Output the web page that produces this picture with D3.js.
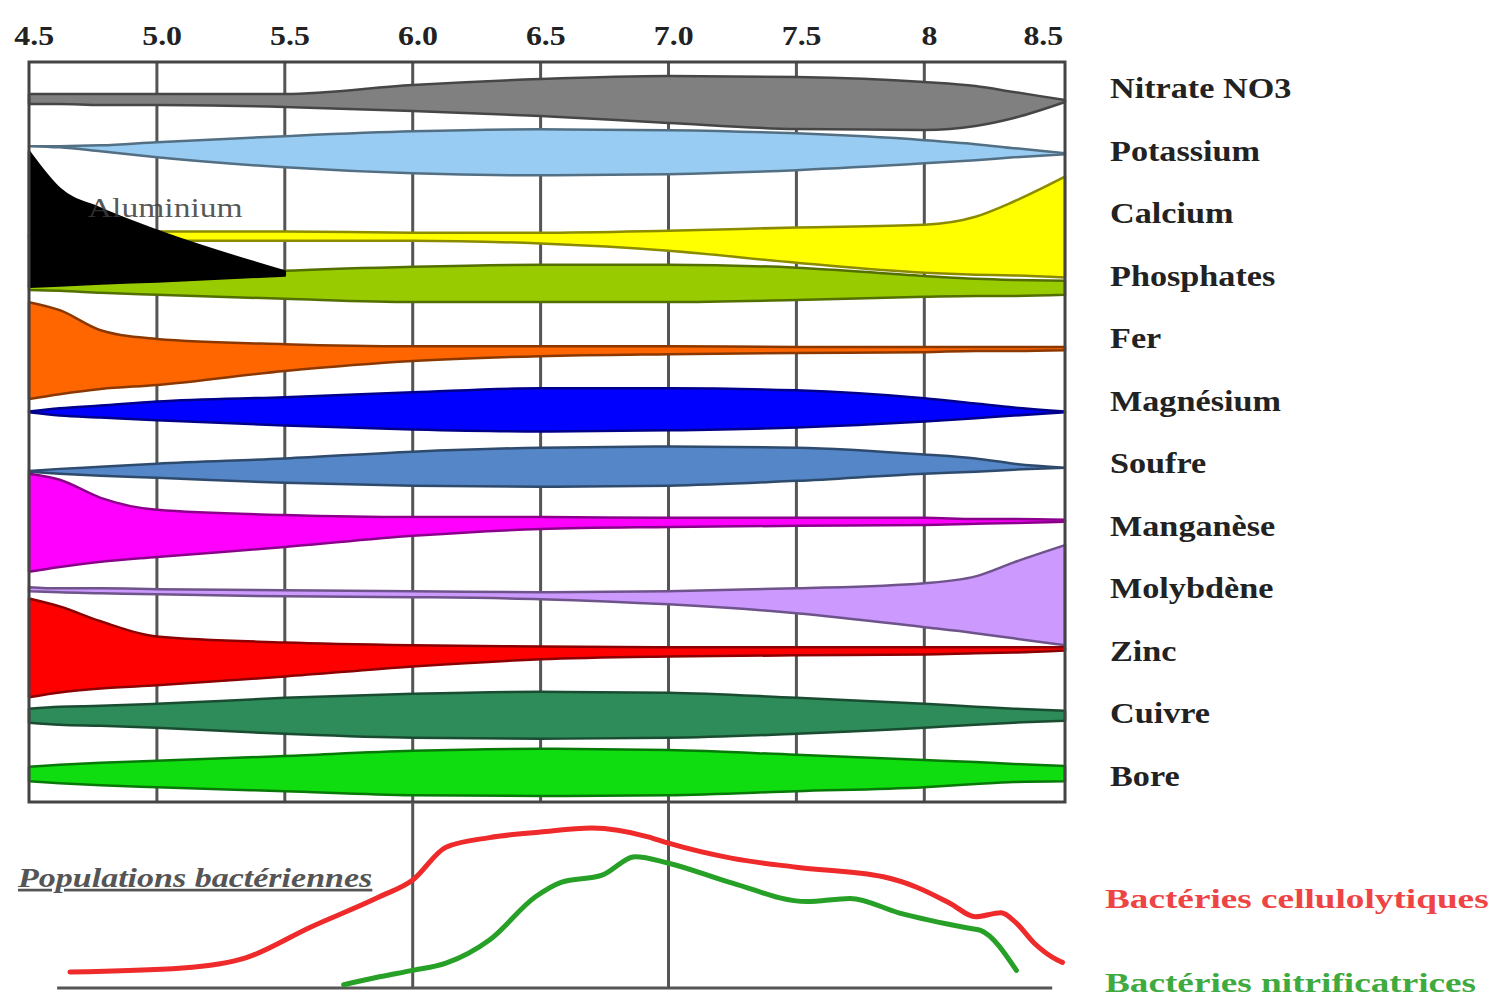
<!DOCTYPE html>
<html lang="fr">
<head>
    <meta charset="UTF-8">
    <script src="https://d3js.org/d3.v7.min.js"></script>
    <style>
        body { margin: 0; background: #fff; }
        svg { display: block; }
        .serif { font-family: "Liberation Serif", "Times New Roman", serif; }
    </style>
</head>
<body>
    <div id="chart"></div>

    <script>
        const phGrid = [4.5, 4.62, 4.78, 5.0, 5.5, 6.0, 6.5, 7.0, 7.5, 8.0, 8.2, 8.35, 8.55];
        const tickValues = [4.5, 5.0, 5.5, 6.0, 6.5, 7.0, 7.5, 8.0, 8.5];
        const tickLabels = ["4.5", "5.0", "5.5", "6.0", "6.5", "7.0", "7.5", "8", "8.5"];
        const elements = ["Nitrate NO3", "Potassium", "Calcium", "Phosphates", "Fer", "Magnésium",
                          "Soufre", "Manganèse", "Molybdène", "Zinc", "Cuivre", "Bore"];

        // availability: extent above (up) and below (down) the element's row
        const nitrateUp     = [-1.5, -1.5, -1.5, -1.5, -1.5, 0.75, 2.25, 3, 2.75, 1.5, 0.5, -1, -3];
        const nitrateDown   = [4, 4, 4.25, 4.25, 4.75, 5.75, 7, 8.75, 10.25, 10.5, 9.5, 7.5, 3.5];
        const potassiumUp   = [1.1, 1.1, 1.3, 2.1, 3.6, 4.8, 5.3, 5.1, 4.3, 2.6, 1.6, 0.6, -0.7];
        const potassiumDown = [-1.1, -0.8, 0.2, 1.7, 4.2, 5.7, 6.2, 5.9, 4.9, 3.2, 2.4, 1.7, 0.9];
        const calciumUp     = [-5.4, -5.4, -5.1, -4.6, -4.6, -4.9, -4.9, -4.4, -3.6, -2.9, -0.9, 2.9, 9.1];
        const calciumDown   = [6.4, 6.4, 6.6, 6.9, 6.9, 6.9, 7.6, 9.4, 12.4, 14.9, 15.4, 15.6, 16.1];
        const aluminiumUp   = [15.4, 6.1, 1.1, -4.4, -14.6, null, null, null, null, null, null, null, null];
        const aluminiumDown = [18.4, 18.1, 17.6, 17.1, 15.6, null, null, null, null, null, null, null, null];
        const phosphatesUp  = [-2.3, -2.1, -1.8, -1.1, 1.2, 2.2, 2.7, 2.7, 2.0, -0.1, -0.8, -1.1, -1.3];
        const phosphatesDown= [3.6, 3.8, 4.3, 4.8, 5.8, 6.6, 6.6, 6.6, 6.1, 5.3, 5.1, 5.1, 4.8];
        const ferUp         = [9.0, 7.0, 2.0, -0.2, -1.5, -2.0, -2.0, -2.0, -2.2, -2.2, -2.2, -2.2, -2.2];
        const ferDown       = [15.2, 14.0, 12.7, 11.7, 8.2, 5.7, 4.5, 4.0, 3.7, 3.5, 3.2, 3.2, 3.0];
        const magnesiumUp   = [-2.7, -1.9, -1.2, -0.2, 0.9, 2.1, 3.1, 3.1, 2.6, 0.6, -0.7, -1.7, -2.7];
        const magnesiumDown = [2.9, 3.7, 4.2, 4.9, 6.2, 7.2, 7.7, 7.4, 6.7, 5.2, 4.4, 3.7, 2.9];
        const soufreUp      = [-1.9, -1.4, -0.9, -0.1, 1.2, 2.9, 3.9, 4.2, 3.9, 2.2, 1.2, -0.1, -1.1];
        const soufreDown    = [2.1, 2.6, 3.1, 3.6, 4.9, 5.6, 5.9, 5.6, 4.4, 2.6, 2.1, 1.6, 1.1];
        const manganeseUp   = [13.0, 11.5, 7.0, 4.0, 2.7, 2.2, 2.2, 2.0, 2.0, 2.0, 1.7, 1.7, 1.5];
        const manganeseDown = [11.5, 10.3, 9.0, 7.8, 5.3, 2.5, 0.8, 0.3, 0.0, -0.2, -0.5, -0.7, -1.0];
        const molybdeneUp   = [0.3, 0.0, 0.0, -0.2, -0.5, -0.7, -1.0, -0.7, 0.0, 1.3, 3.0, 6.5, 10.8];
        const molybdeneDown = [0.7, 1.0, 1.2, 1.5, 2.0, 2.2, 2.7, 4.0, 6.2, 9.7, 11.2, 12.5, 14.2];
        const zincUp        = [13.1, 11.1, 7.4, 3.6, 2.1, 1.4, 1.1, 0.9, 0.9, 0.9, 0.9, 0.9, 0.9];
        const zincDown      = [11.6, 10.4, 9.4, 8.6, 6.4, 3.9, 2.1, 1.4, 1.1, 0.9, 0.6, 0.4, -0.1];
        const cuivreUp      = [1.2, 1.7, 1.9, 2.4, 3.9, 4.9, 5.4, 5.2, 3.9, 2.4, 1.7, 1.2, 0.7];
        const cuivreDown    = [2.3, 2.8, 3.1, 3.6, 5.1, 6.1, 6.3, 6.1, 5.1, 3.6, 2.8, 2.3, 1.8];
        const boreUp        = [2.3, 2.8, 3.3, 3.8, 5.0, 6.3, 6.8, 6.5, 5.3, 4.0, 3.5, 3.0, 2.5];
        const boreDown      = [1.3, 1.8, 2.3, 2.8, 3.8, 4.8, 5.0, 4.8, 3.8, 2.8, 2.0, 1.5, 1.3];

        // bacterial populations (relative, 0-100)
        const celluloPh = [4.66, 5.1, 5.35, 5.6, 5.87, 6.0, 6.13, 6.3, 6.5, 6.7, 6.92, 7.0, 7.25, 7.5, 7.84, 7.97, 8.1, 8.2, 8.3, 8.36, 8.43, 8.52, 8.54];
        const cellulo   = [10, 12.5, 19, 38, 57, 67.5, 88, 94, 97.5, 100, 94.5, 90.5, 81, 75.5, 69.5, 63, 53, 44.5, 47, 40.5, 28, 17.5, 16];
        const nitrifPh  = [5.73, 5.87, 6.0, 6.13, 6.3, 6.48, 6.58, 6.74, 6.87, 7.0, 7.25, 7.54, 7.71, 7.9, 8.17, 8.22, 8.36];
        const nitrif    = [2, 7, 11, 15.5, 30, 57, 66, 70.5, 82, 78, 65.5, 54, 56, 47, 37.5, 36, 11];

        const bands = [
            { key: "Nitrate NO3", row: "Nitrate NO3", up: nitrateUp, down: nitrateDown, fill: "#808080" },
            { key: "Potassium", row: "Potassium", up: potassiumUp, down: potassiumDown, fill: "#99ccf2" },
            { key: "Calcium", row: "Calcium", up: calciumUp, down: calciumDown, fill: "#ffff00" },
            { key: "Phosphates", row: "Phosphates", up: phosphatesUp, down: phosphatesDown, fill: "#99cc00" },
            { key: "Aluminium", row: "Calcium", up: aluminiumUp, down: aluminiumDown, fill: "#000000" },
            { key: "Fer", row: "Fer", up: ferUp, down: ferDown, fill: "#ff6600" },
            { key: "Magnésium", row: "Magnésium", up: magnesiumUp, down: magnesiumDown, fill: "#0000ff" },
            { key: "Soufre", row: "Soufre", up: soufreUp, down: soufreDown, fill: "#5587c8" },
            { key: "Manganèse", row: "Manganèse", up: manganeseUp, down: manganeseDown, fill: "#ff00ff" },
            { key: "Molybdène", row: "Molybdène", up: molybdeneUp, down: molybdeneDown, fill: "#cc99ff" },
            { key: "Zinc", row: "Zinc", up: zincUp, down: zincDown, fill: "#ff0000" },
            { key: "Cuivre", row: "Cuivre", up: cuivreUp, down: cuivreDown, fill: "#2e8b5a" },
            { key: "Bore", row: "Bore", up: boreUp, down: boreDown, fill: "#0fdd0f" }
        ];

        const plotTop = 62, plotBottom = 802, baseY = 988;

        const svg = d3.select("#chart").append("svg")
            .attr("width", 1499)
            .attr("height", 1002);

        const x = d3.scaleLinear().domain([4.5, 8.55]).range([29, 1065]);
        const row = d3.scalePoint().domain(elements).range([88, 776]);
        const amp = d3.scaleLinear().domain([0, 10]).range([0, 40]);
        const yb = d3.scaleLinear().domain([0, 100]).range([baseY, 828]);

        // vertical grid
        svg.append("g")
            .selectAll("line")
            .data(tickValues.slice(1, -1))
            .enter().append("line")
            .attr("x1", d => x(d)).attr("x2", d => x(d))
            .attr("y1", plotTop).attr("y2", plotBottom)
            .attr("stroke", "#555").attr("stroke-width", 3);

        // top axis labels
        const axis = svg.append("g")
            .attr("transform", `translate(0,${plotTop})`)
            .call(d3.axisTop(x).tickValues(tickValues).tickFormat((d, i) => tickLabels[i]).tickSize(0).tickPadding(17));
        axis.select(".domain").remove();
        axis.selectAll("text")
            .attr("class", "serif")
            .attr("font-size", 27)
            .attr("font-weight", "bold")
            .attr("fill", "#222")
            .attr("dx", (d, i) => i === tickValues.length - 1 ? -8 : 4)
            .attr("transform", "scale(1.18,1)");

        // element bands
        const area = d3.area()
            .defined(d => d.up != null)
            .x(d => x(d.ph))
            .y0(d => d.r + amp(d.down))
            .y1(d => d.r - amp(d.up))
            .curve(d3.curveMonotoneX);

        svg.append("g")
            .selectAll("path")
            .data(bands)
            .enter().append("path")
            .attr("d", b => area(phGrid.map((ph, i) => ({ ph, up: b.up[i], down: b.down[i], r: row(b.row) }))))
            .attr("fill", b => b.fill)
            .attr("stroke", b => b.key === "Aluminium" ? "#000" : d3.color(b.fill).darker(1.7))
            .attr("stroke-width", 2.5)
            .attr("stroke-linejoin", "round");

        svg.append("text")
            .attr("class", "serif")
            .attr("transform", `translate(${x(4.73)},${row("Calcium") + 4}) scale(1.2,1)`)
            .attr("font-size", 28)
            .attr("fill", "#3a3a3a")
            .attr("fill-opacity", 0.85)
            .text("Aluminium");

        // frame
        svg.append("rect")
            .attr("x", x(4.5)).attr("y", plotTop)
            .attr("width", x(8.55) - x(4.5)).attr("height", plotBottom - plotTop)
            .attr("fill", "none").attr("stroke", "#444").attr("stroke-width", 3);

        // element names
        svg.append("g")
            .selectAll("text")
            .data(elements)
            .enter().append("text")
            .attr("class", "serif")
            .attr("transform", d => `translate(1110,${row(d)}) scale(1.2,1)`)
            .attr("dy", "0.35em")
            .attr("font-size", 28.5)
            .attr("font-weight", "bold")
            .attr("fill", "#222")
            .text(d => d);

        // bacterial populations
        svg.append("g")
            .selectAll("line")
            .data([6.0, 7.0])
            .enter().append("line")
            .attr("x1", d => x(d)).attr("x2", d => x(d))
            .attr("y1", plotBottom).attr("y2", baseY)
            .attr("stroke", "#555").attr("stroke-width", 3);

        svg.append("line")
            .attr("x1", x(4.61)).attr("x2", x(8.5))
            .attr("y1", baseY).attr("y2", baseY)
            .attr("stroke", "#555").attr("stroke-width", 3);

        const line = d3.line()
            .x(d => x(d[0]))
            .y(d => yb(d[1]))
            .curve(d3.curveMonotoneX);

        svg.append("path")
            .attr("d", line(celluloPh.map((p, i) => [p, cellulo[i]])))
            .attr("fill", "none").attr("stroke", "#ee2a2a").attr("stroke-width", 5)
            .attr("stroke-linejoin", "round").attr("stroke-linecap", "round");

        svg.append("path")
            .attr("d", line(nitrifPh.map((p, i) => [p, nitrif[i]])))
            .attr("fill", "none").attr("stroke", "#27a027").attr("stroke-width", 5)
            .attr("stroke-linejoin", "round").attr("stroke-linecap", "round");

        svg.append("text")
            .attr("class", "serif")
            .attr("transform", "translate(18,887) scale(1.26,1)")
            .attr("font-size", 27)
            .attr("font-weight", "bold")
            .attr("font-style", "italic")
            .attr("text-decoration", "underline")
            .attr("fill", "#555")
            .text("Populations bactériennes");

        svg.append("text")
            .attr("class", "serif")
            .attr("transform", `translate(1105,${yb(56)}) scale(1.33,1)`)
            .attr("dy", "0.35em")
            .attr("font-size", 28)
            .attr("font-weight", "bold")
            .attr("fill", "#ee4444")
            .text("Bactéries cellulolytiques");

        svg.append("text")
            .attr("class", "serif")
            .attr("transform", `translate(1105,${yb(3.5)}) scale(1.33,1)`)
            .attr("dy", "0.35em")
            .attr("font-size", 28)
            .attr("font-weight", "bold")
            .attr("fill", "#3faa3f")
            .text("Bactéries nitrificatrices");
    </script>
</body>
</html>
